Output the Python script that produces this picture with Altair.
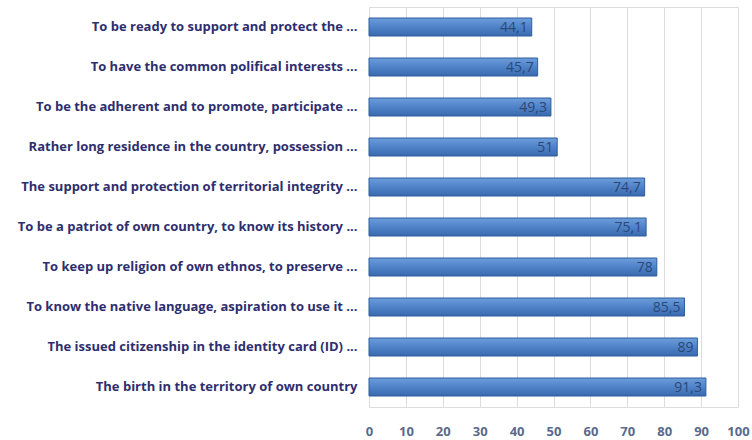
import altair as alt
import pandas as pd

categories = [
    "To be ready to support and protect the ...",
    "To have the common polifical interests ...",
    "To be the adherent and to promote, participate ...",
    "Rather long residence in the country, possession ...",
    "The support and protection of territorial integrity ...",
    "To be a patriot of own country, to know its history ...",
    "To keep up religion of own ethnos, to preserve ...",
    "To know the native language, aspiration to use it ...",
    "The issued citizenship in the identity card (ID) ...",
    "The birth in the territory of own country",
]
values = [44.1, 45.7, 49.3, 51, 74.7, 75.1, 78, 85.5, 89, 91.3]
x_ticks = [0, 10, 20, 30, 40, 50, 60, 70, 80, 90, 100]

df = pd.DataFrame({"cat": categories, "v": values})

FONT = "Open Sans"

y_enc = alt.Y("cat:N", sort=categories, title=None,
              scale=alt.Scale(paddingInner=0.55, paddingOuter=0.275),
              axis=alt.Axis(labelFont=FONT, labelFontSize=13, labelFontWeight="bold",
                            labelColor="#2e2e6e", labelPadding=12, ticks=False,
                            domain=False, labelLimit=400))
x_enc = alt.X("v:Q", title=None, scale=alt.Scale(domain=[0, 100], nice=False),
              axis=alt.Axis(values=x_ticks, labelFont=FONT, labelFontSize=13,
                            labelFontWeight="bold", labelColor="#5a6a8c", ticks=False,
                            domain=False, grid=True, gridColor="#dcdcdc",
                            labelPadding=18, labelOverlap=False, labelFlush=False))

grad = alt.Gradient(
    gradient="linear", x1=0, x2=0, y1=0, y2=1,
    stops=[alt.GradientStop(color="#6d9ddb", offset=0),
           alt.GradientStop(color="#4f82c8", offset=0.5),
           alt.GradientStop(color="#3a69ad", offset=1)],
)

base = alt.Chart(df).encode(x=x_enc, y=y_enc)

bars = base.mark_bar(color=grad, stroke="#2f5d9c", strokeWidth=1)

labels = base.transform_calculate(
    lab="replace(format(datum.v, '.1~f'), '.', ',')"
).mark_text(align="right", dx=-4, dy=1, font=FONT, fontSize=14, color="#2a4878").encode(
    text="lab:N"
)

chart = (bars + labels).properties(
    width=369, height=400,
    autosize=alt.AutoSizeParams(type="none"),
    padding={"left": 369, "top": 7, "right": 14, "bottom": 33},
).configure_view(stroke=None).configure(background="white")

chart.save("out.html", embed_options={"renderer": "svg", "actions": False})
